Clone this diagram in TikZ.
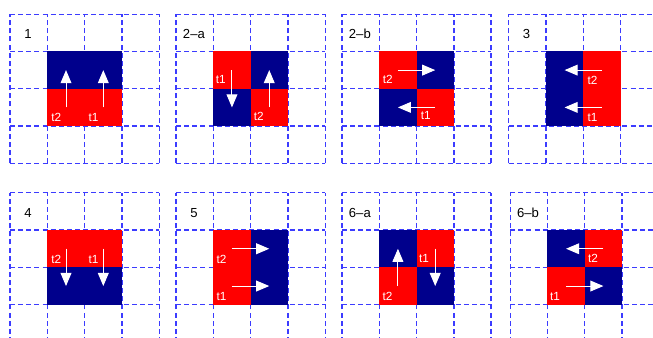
\documentclass[tikz,border=0pt]{standalone}
\usepackage{fontspec}
\setmainfont{Liberation Sans}
\usetikzlibrary{arrows.meta}
\definecolor{gridblue}{RGB}{60,60,255}
\definecolor{spinred}{RGB}{255,0,0}
\definecolor{spinnavy}{RGB}{0,0,140}
\begin{document}
\begin{tikzpicture}[
    font=\fontsize{9}{11}\selectfont,
    gridline/.style={gridblue, line width=1pt, dash pattern=on 3.8pt off 2.4pt},
    move/.style={white, line width=0.75pt, -{Triangle[width=0.29cm,length=0.35cm]}},
    tlabel/.style={white, inner sep=0pt},
    plabel/.style={font=\fontsize{10}{12}\selectfont, inner sep=0pt}
]
\useasboundingbox (0,0) rectangle (17.51,9.06);

% panel 1
\begin{scope}[shift={(0.27,4.68)}]
\foreach \k in {0,...,4} {
    \draw[gridline] (\k,0) -- (\k,4);
    \draw[gridline] (0,\k) -- (4,\k);
}
\fill[spinnavy] (1,2) rectangle (3,3);
\fill[spinred] (1,1) rectangle (3,2);
\draw[move] (1.5,1.5) -- (1.5,2.5);
\draw[move] (2.5,1.5) -- (2.5,2.5);
\node[tlabel] (p1-t2) at (1.24,1.23) {t2};
\node[tlabel] (p1-t1) at (2.24,1.23) {t1};
\node[plabel] (p1-name) at (0.48,3.46) {1};
\end{scope}

% panel 2-a
\begin{scope}[shift={(4.72,4.68)}]
\foreach \k in {0,...,4} {
    \draw[gridline] (\k,0) -- (\k,4);
    \draw[gridline] (0,\k) -- (4,\k);
}
\fill[spinred] (1,2) rectangle (2,3);
\fill[spinnavy] (2,2) rectangle (3,3);
\fill[spinnavy] (1,1) rectangle (2,2);
\fill[spinred] (2,1) rectangle (3,2);
\draw[move] (1.5,2.5) -- (1.5,1.5);
\draw[move] (2.5,1.5) -- (2.5,2.5);
\node[tlabel] (p2a-t1) at (1.2,2.24) {t1};
\node[tlabel] (p2a-t2) at (2.22,1.25) {t2};
\node[plabel] (p2a-name) at (0.48,3.46) {2–a};
\end{scope}

% panel 2-b
\begin{scope}[shift={(9.17,4.68)}]
\foreach \k in {0,...,4} {
    \draw[gridline] (\k,0) -- (\k,4);
    \draw[gridline] (0,\k) -- (4,\k);
}
\fill[spinred] (1,2) rectangle (2,3);
\fill[spinnavy] (2,2) rectangle (3,3);
\fill[spinnavy] (1,1) rectangle (2,2);
\fill[spinred] (2,1) rectangle (3,2);
\draw[move] (1.5,2.5) -- (2.5,2.5);
\draw[move] (2.5,1.5) -- (1.5,1.5);
\node[tlabel] (p2b-t2) at (1.23,2.24) {t2};
\node[tlabel] (p2b-t1) at (2.25,1.27) {t1};
\node[plabel] (p2b-name) at (0.48,3.46) {2–b};
\end{scope}

% panel 3
\begin{scope}[shift={(13.64,4.68)}]
\foreach \k in {0,...,4} {
    \draw[gridline] (\k,0) -- (\k,4);
    \draw[gridline] (0,\k) -- (4,\k);
}
\fill[spinnavy] (1,1) rectangle (2,3);
\fill[spinred] (2,1) rectangle (3,3);
\draw[move] (2.5,2.5) -- (1.5,2.5);
\draw[move] (2.5,1.5) -- (1.5,1.5);
\node[tlabel] (p3-t2) at (2.25,2.22) {t2};
\node[tlabel] (p3-t1) at (2.25,1.24) {t1};
\node[plabel] (p3-name) at (0.48,3.46) {3};
\end{scope}

% panel 4
\begin{scope}[shift={(0.27,-0.11)}]
\foreach \k in {0,...,4} {
    \draw[gridline] (\k,0) -- (\k,4);
    \draw[gridline] (0,\k) -- (4,\k);
}
\fill[spinred] (1,2) rectangle (3,3);
\fill[spinnavy] (1,1) rectangle (3,2);
\draw[move] (1.5,2.5) -- (1.5,1.5);
\draw[move] (2.5,2.5) -- (2.5,1.5);
\node[tlabel] (p4-t2) at (1.24,2.22) {t2};
\node[tlabel] (p4-t1) at (2.24,2.22) {t1};
\node[plabel] (p4-name) at (0.48,3.46) {4};
\end{scope}

% panel 5
\begin{scope}[shift={(4.72,-0.11)}]
\foreach \k in {0,...,4} {
    \draw[gridline] (\k,0) -- (\k,4);
    \draw[gridline] (0,\k) -- (4,\k);
}
\fill[spinred] (1,1) rectangle (2,3);
\fill[spinnavy] (2,1) rectangle (3,3);
\draw[move] (1.5,2.5) -- (2.5,2.5);
\draw[move] (1.5,1.5) -- (2.5,1.5);
\node[tlabel] (p5-t2) at (1.22,2.22) {t2};
\node[tlabel] (p5-t1) at (1.22,1.22) {t1};
\node[plabel] (p5-name) at (0.48,3.46) {5};
\end{scope}

% panel 6-a
\begin{scope}[shift={(9.17,-0.11)}]
\foreach \k in {0,...,4} {
    \draw[gridline] (\k,0) -- (\k,4);
    \draw[gridline] (0,\k) -- (4,\k);
}
\fill[spinnavy] (1,2) rectangle (2,3);
\fill[spinred] (2,2) rectangle (3,3);
\fill[spinred] (1,1) rectangle (2,2);
\fill[spinnavy] (2,1) rectangle (3,2);
\draw[move] (1.5,1.5) -- (1.5,2.5);
\draw[move] (2.5,2.5) -- (2.5,1.5);
\node[tlabel] (p6a-t2) at (1.22,1.22) {t2};
\node[tlabel] (p6a-t1) at (2.2,2.23) {t1};
\node[plabel] (p6a-name) at (0.48,3.46) {6–a};
\end{scope}

% panel 6-b
\begin{scope}[shift={(13.68,-0.11)}]
\foreach \k in {0,...,4} {
    \draw[gridline] (\k,0) -- (\k,4);
    \draw[gridline] (0,\k) -- (4,\k);
}
\fill[spinnavy] (1,2) rectangle (2,3);
\fill[spinred] (2,2) rectangle (3,3);
\fill[spinred] (1,1) rectangle (2,2);
\fill[spinnavy] (2,1) rectangle (3,2);
\draw[move] (2.5,2.5) -- (1.5,2.5);
\draw[move] (1.5,1.5) -- (2.5,1.5);
\node[tlabel] (p6b-t2) at (2.22,2.23) {t2};
\node[tlabel] (p6b-t1) at (1.2,1.22) {t1};
\node[plabel] (p6b-name) at (0.48,3.46) {6–b};
\end{scope}

\end{tikzpicture}
\end{document}
